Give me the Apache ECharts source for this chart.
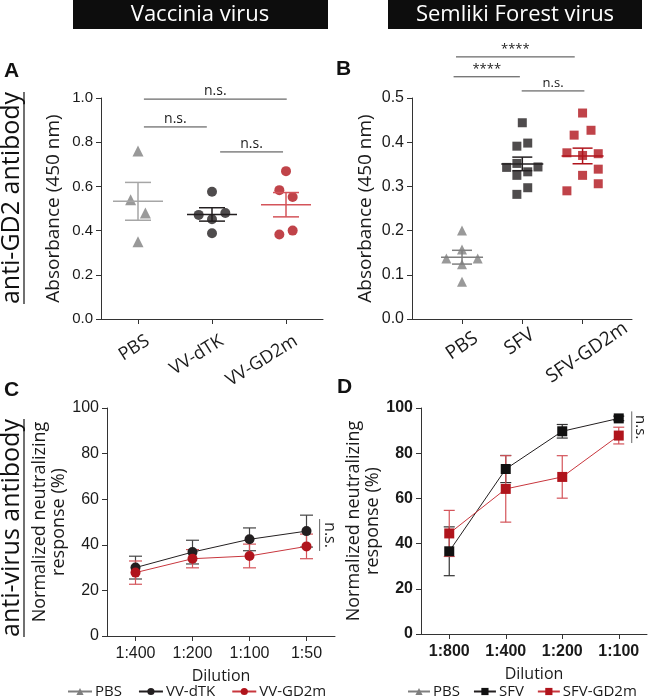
<!DOCTYPE html>
<html><head><meta charset="utf-8">
<script src="https://cdn.jsdelivr.net/npm/echarts@6/dist/echarts.min.js"></script>
<style>html,body{margin:0;padding:0;background:#fff}#c{width:650px;height:700px}</style>
</head><body><div id="c"></div>
<script>
// ---------- Panel A data (Vaccinia, anti-GD2 absorbance) ----------
const catsA = ['PBS', 'VV-dTK', 'VV-GD2m'];
const pbsA = [0.76, 0.54, 0.48, 0.35];
const vvdtkA = [0.576, 0.471, 0.48, 0.451, 0.388];
const vvgd2mA = [0.669, 0.583, 0.552, 0.382, 0.40];
const jitPbsA = [0, -0.1, 0.1, 0];
const jitVvdtkA = [0, -0.18, 0.18, 0, 0];
const jitVvgd2mA = [0, -0.09, 0.09, -0.09, 0.09];
const sigA = [
  { x1: 0.08, x2: 2.01, y: 0.995, t: 'n.s.' },
  { x1: 0.08, x2: 0.93, y: 0.869, t: 'n.s.' },
  { x1: 1.11, x2: 1.96, y: 0.756, t: 'n.s.' }
];
// ---------- Panel B data (SFV, anti-GD2 absorbance) ----------
const catsB = ['PBS', 'SFV', 'SFV-GD2m'];
const pbsB = [0.20, 0.157, 0.137, 0.137, 0.124, 0.084];
const sfvB = [0.444, 0.398, 0.391, 0.343, 0.352, 0.344, 0.333, 0.325, 0.297, 0.282];
const sfvgd2mB = [0.466, 0.416, 0.427, 0.376, 0.370, 0.374, 0.339, 0.325, 0.306, 0.290];
const jitPbsB = [0, 0, -0.26, 0.26, 0, 0];
const jitSfvB = [0, 0.09, -0.09, -0.26, -0.09, 0.26, 0.09, -0.09, 0.09, -0.09];
const jitSfvgd2mB = [0, -0.14, 0.14, -0.26, 0, 0.26, 0.26, 0, 0.26, -0.26];
const sigB = [
  { x1: -0.1, x2: 1.87, y: 0.593, t: '****' },
  { x1: -0.14, x2: 0.96, y: 0.548, t: '****' },
  { x1: 0.99, x2: 2.03, y: 0.516, t: 'n.s.' }
];
// ---------- Panel C data (Vaccinia, neutralizing) ----------
const dilC = ['1:400', '1:200', '1:100', '1:50'];
const vvdtkC = [30, 36.8, 42.4, 46];
const vvdtkCerr = [5, 5.2, 5, 7];
const vvgd2mC = [27.8, 33.9, 35.1, 39.3];
const vvgd2mCerr = [5.1, 4, 5.2, 5.4];
const nsC = { y1: 51.3, y2: 37.3 };
// ---------- Panel D data (SFV, neutralizing) ----------
const dilD = ['1:800', '1:400', '1:200', '1:100'];
const sfvD = [36.6, 73, 89.7, 95.4];
const sfvDerr = [10.8, 6, 3, 1];
const sfvgd2mD = [44.5, 64.2, 69.5, 87.8];
const sfvgd2mDerr = [10.2, 14.7, 9.4, 3.7];
const nsD = { y1: 98.5, y2: 84.5 };

const F = '"Open Sans", "Noto Sans", sans-serif';
const N = '"Liberation Sans", Arial, sans-serif';
const GRAY = '#7f7f7f', BLACK = '#231f20', RED = '#b0141c';
const LGRAY = '#a6a6a6', LRED = '#d4545a';
const AX = '#333', TX = '#1a1a1a';

function mean(a) { return a.reduce((s, v) => s + v, 0) / a.length; }
function sem(a) { const m = mean(a); const v = a.reduce((s, x) => s + (x - m) * (x - m), 0) / (a.length - 1); return Math.sqrt(v / a.length); }
function pts(vals, jit, idx) { return vals.map((v, i) => [idx + jit[i], v]); }

function meanSem(xi, yi, groups, colors, meanW, capW) {
  return {
    type: 'custom', xAxisIndex: xi, yAxisIndex: yi, z: 4, silent: true, clip: false,
    data: groups.map((g, i) => [i, mean(g), sem(g)]),
    renderItem: (p, api) => {
      const x = api.value(0), m = api.value(1), s = api.value(2);
      const c = api.coord([x, m]), hi = api.coord([x, m + s]), lo = api.coord([x, m - s]);
      const st = { stroke: colors[p.dataIndex], lineWidth: 1.5 };
      return { type: 'group', children: [
        { type: 'line', shape: { x1: c[0] - meanW / 2, y1: c[1], x2: c[0] + meanW / 2, y2: c[1] }, style: st },
        { type: 'line', shape: { x1: hi[0], y1: hi[1], x2: lo[0], y2: lo[1] }, style: st },
        { type: 'line', shape: { x1: hi[0] - capW / 2, y1: hi[1], x2: hi[0] + capW / 2, y2: hi[1] }, style: st },
        { type: 'line', shape: { x1: lo[0] - capW / 2, y1: lo[1], x2: lo[0] + capW / 2, y2: lo[1] }, style: st }
      ]};
    }
  };
}
function brackets(xi, yi, list, fs) {
  return {
    type: 'custom', xAxisIndex: xi, yAxisIndex: yi, z: 5, silent: true, clip: false,
    data: list.map(b => [b.x1, b.y, b.x2]),
    renderItem: (p, api) => {
      const b = list[p.dataIndex];
      const p1 = api.coord([b.x1, b.y]), p2 = api.coord([b.x2, b.y]);
      return { type: 'group', children: [
        { type: 'line', shape: { x1: p1[0], y1: p1[1], x2: p2[0], y2: p2[1] }, style: { stroke: '#444', lineWidth: 1 } },
        { type: 'text', style: { text: b.t, x: (p1[0] + p2[0]) / 2, y: p1[1] - 1, align: 'center', verticalAlign: 'bottom', font: fs + 'px ' + F, fill: TX } }
      ]};
    }
  };
}
function errBars(xi, yi, vals, errs, color, capW) {
  return {
    type: 'custom', xAxisIndex: xi, yAxisIndex: yi, z: 1, silent: true,
    data: vals.map((v, i) => [i, v, errs[i]]),
    renderItem: (p, api) => {
      const i = api.value(0), v = api.value(1), e = api.value(2);
      const hi = api.coord([i, v + e]), lo = api.coord([i, v - e]);
      const st = { stroke: color, lineWidth: 1.2 };
      return { type: 'group', children: [
        { type: 'line', shape: { x1: hi[0], y1: hi[1], x2: lo[0], y2: lo[1] }, style: st },
        { type: 'line', shape: { x1: hi[0] - capW / 2, y1: hi[1], x2: hi[0] + capW / 2, y2: hi[1] }, style: st },
        { type: 'line', shape: { x1: lo[0] - capW / 2, y1: lo[1], x2: lo[0] + capW / 2, y2: lo[1] }, style: st }
      ]};
    }
  };
}
function vertNs(xi, yi, lastIdx, ns, fs) {
  return {
    type: 'custom', xAxisIndex: xi, yAxisIndex: yi, z: 5, silent: true, clip: false,
    data: [[lastIdx, ns.y1, ns.y2]],
    renderItem: (p, api) => {
      const band = api.size([1, 0])[0];
      const a = api.coord([lastIdx, ns.y1]), b = api.coord([lastIdx, ns.y2]);
      const x = a[0] + 0.23 * band;
      return { type: 'group', children: [
        { type: 'line', shape: { x1: x, y1: a[1], x2: x, y2: b[1] }, style: { stroke: '#666', lineWidth: 1 } },
        { type: 'text', x: x + fs * 0.6, y: (a[1] + b[1]) / 2, rotation: -Math.PI / 2,
          style: { text: 'n.s.', x: 0, y: 0, align: 'center', verticalAlign: 'middle', font: fs + 'px ' + F, fill: TX } }
      ]};
    }
  };
}

const tick = { show: true, length: 5, lineStyle: { color: AX } };
const axBase = (extra) => Object.assign({
  axisLine: { show: true, onZero: false, lineStyle: { color: AX, width: 1 } },
  axisTick: tick,
  splitLine: { show: false }
}, extra);

const meas = document.createElement('canvas').getContext('2d');
function tw(text, font) { meas.font = font; return meas.measureText(text).width; }
const bigFont = '25px ' + F;
const wA = tw('anti-GD2 antibody', bigFont), wC = tw('anti-virus antibody', bigFont);

const labB = { fontSize: 19, color: TX, fontFamily: F };
const chart = echarts.init(document.getElementById('c'));
chart.setOption({
  animation: false,
  textStyle: { fontFamily: F },
  grid: [
    { left: 101, top: 98, width: 222, height: 221 },
    { left: 412, top: 98, width: 220, height: 221 },
    { left: 107, top: 408, width: 228, height: 228 },
    { left: 421, top: 408, width: 226, height: 226 }
  ],
  xAxis: [
    axBase({ gridIndex: 0, type: 'value', min: -0.5, max: 2.5,
      axisTick: Object.assign({ customValues: [0, 1, 2] }, tick),
      axisLabel: { customValues: [0, 1, 2], formatter: v => catsA[Math.round(v)], rotate: 32, margin: 16,
        verticalAlign: 'top', padding: [0, -6, 0, 0], fontSize: 18, color: TX, fontFamily: F } }),
    axBase({ gridIndex: 1, type: 'value', min: -0.83, max: 2.82,
      axisTick: Object.assign({ customValues: [0, 1, 2] }, tick),
      axisLabel: { customValues: [0, 1, 2], formatter: v => '{l' + Math.round(v) + '|' + catsB[Math.round(v)] + '}',
        rotate: 34, margin: 27, align: 'center', verticalAlign: 'middle', fontSize: 19, color: TX, fontFamily: F,
        rich: {
          l0: Object.assign({}, labB),
          l1: Object.assign({ padding: [0, 0, 10, 0] }, labB),
          l2: Object.assign({ padding: [16, 0, 0, 0] }, labB)
        } } }),
    axBase({ gridIndex: 2, type: 'category', data: dilC, boundaryGap: true,
      axisTick: Object.assign({ alignWithLabel: true }, tick),
      axisLabel: { margin: 10, fontSize: 16, color: TX, fontFamily: N },
      name: 'Dilution', nameLocation: 'middle', nameGap: 32, nameTextStyle: { fontSize: 16, color: TX, fontFamily: F } }),
    axBase({ gridIndex: 3, type: 'category', data: dilD, boundaryGap: true,
      axisTick: Object.assign({ alignWithLabel: true }, tick),
      axisLabel: { margin: 10, fontSize: 16, fontWeight: 'bold', color: TX, fontFamily: N },
      name: 'Dilution', nameLocation: 'middle', nameGap: 32, nameTextStyle: { fontSize: 16, color: TX, fontFamily: F } })
  ],
  yAxis: [
    axBase({ gridIndex: 0, type: 'value', min: 0, max: 1, interval: 0.2,
      axisLabel: { formatter: v => v.toFixed(1), margin: 8, fontSize: 15, color: TX, fontFamily: N },
      name: 'Absorbance (450 nm)', nameLocation: 'middle', nameGap: 38, nameTextStyle: { fontSize: 19, color: TX, fontFamily: F } }),
    axBase({ gridIndex: 1, type: 'value', min: 0, max: 0.5, interval: 0.1,
      axisLabel: { formatter: v => v.toFixed(1), margin: 8, fontSize: 16, color: TX, fontFamily: N },
      name: 'Absorbance (450 nm)', nameLocation: 'middle', nameGap: 37, nameTextStyle: { fontSize: 19, color: TX, fontFamily: F } }),
    axBase({ gridIndex: 2, type: 'value', min: 0, max: 100, interval: 20,
      axisLabel: { margin: 8, fontSize: 16, color: TX, fontFamily: N },
      name: 'Normalized neutralizing\nresponse (%)', nameLocation: 'middle', nameGap: 35,
      nameTextStyle: { fontSize: 18, lineHeight: 19, color: TX, fontFamily: F } }),
    axBase({ gridIndex: 3, type: 'value', min: 0, max: 100, interval: 20,
      axisLabel: { margin: 8, fontSize: 16, fontWeight: 'bold', color: TX, fontFamily: N },
      name: 'Normalized neutralizing\nresponse (%)', nameLocation: 'middle', nameGap: 34,
      nameTextStyle: { fontSize: 18, lineHeight: 19, color: TX, fontFamily: F } })
  ],
  legend: [
    { left: 67, top: 684, width: 290, padding: 0, itemWidth: 24, itemHeight: 9, itemGap: 16, data: ['PBS', 'VV-dTK', 'VV-GD2m'],
      textStyle: { fontSize: 15, color: TX, fontFamily: F, padding: [0, 0, 0, -2] }, selectedMode: false },
    { left: 407, top: 684, width: 243, padding: 0, itemWidth: 22, itemHeight: 9, itemGap: 13, data: ['PBS', 'SFV', 'SFV-GD2m'],
      textStyle: { fontSize: 15, color: TX, fontFamily: F, padding: [0, 0, 0, -2] }, selectedMode: false }
  ],
  series: [
    // Panel A
    { type: 'scatter', xAxisIndex: 0, yAxisIndex: 0, symbol: 'triangle', symbolSize: 11, itemStyle: { color: GRAY }, data: pts(pbsA, jitPbsA, 0), z: 3 },
    { type: 'scatter', xAxisIndex: 0, yAxisIndex: 0, symbol: 'circle', symbolSize: 10, itemStyle: { color: BLACK }, data: pts(vvdtkA, jitVvdtkA, 1), z: 3 },
    { type: 'scatter', xAxisIndex: 0, yAxisIndex: 0, symbol: 'circle', symbolSize: 10, itemStyle: { color: RED }, data: pts(vvgd2mA, jitVvgd2mA, 2), z: 3 },
    meanSem(0, 0, [pbsA, vvdtkA, vvgd2mA], [LGRAY, BLACK, LRED], 50, 26),
    brackets(0, 0, sigA, 14),
    // Panel B
    { type: 'scatter', xAxisIndex: 1, yAxisIndex: 1, symbol: 'triangle', symbolSize: 10, itemStyle: { color: GRAY }, data: pts(pbsB, jitPbsB, 0), z: 3 },
    { type: 'scatter', xAxisIndex: 1, yAxisIndex: 1, symbol: 'rect', symbolSize: 9, itemStyle: { color: BLACK }, data: pts(sfvB, jitSfvB, 1), z: 3 },
    { type: 'scatter', xAxisIndex: 1, yAxisIndex: 1, symbol: 'rect', symbolSize: 9, itemStyle: { color: RED }, data: pts(sfvgd2mB, jitSfvgd2mB, 2), z: 3 },
    meanSem(1, 1, [pbsB, sfvB, sfvgd2mB], [GRAY, BLACK, RED], 42, 20),
    brackets(1, 1, sigB, 13),
    // Panel C
    { type: 'line', name: 'PBS', xAxisIndex: 2, yAxisIndex: 2, symbol: 'triangle', symbolSize: 9, itemStyle: { color: GRAY }, lineStyle: { color: GRAY, width: 1 }, data: [] },
    { type: 'line', name: 'VV-dTK', xAxisIndex: 2, yAxisIndex: 2, symbol: 'circle', symbolSize: 10, showAllSymbol: true, itemStyle: { color: BLACK }, lineStyle: { color: BLACK, width: 1 }, data: vvdtkC, z: 3 },
    { type: 'line', name: 'VV-GD2m', xAxisIndex: 2, yAxisIndex: 2, symbol: 'circle', symbolSize: 10, showAllSymbol: true, itemStyle: { color: RED }, lineStyle: { color: '#c8363d', width: 1 }, data: vvgd2mC, z: 3 },
    errBars(2, 2, vvdtkC, vvdtkCerr, '#444', 13),
    errBars(2, 2, vvgd2mC, vvgd2mCerr, LRED, 13),
    vertNs(2, 2, 3, nsC, 16),
    // Panel D
    { type: 'line', name: 'PBS', xAxisIndex: 3, yAxisIndex: 3, symbol: 'triangle', symbolSize: 9, itemStyle: { color: GRAY }, lineStyle: { color: GRAY, width: 1 }, data: [] },
    { type: 'line', name: 'SFV', xAxisIndex: 3, yAxisIndex: 3, symbol: 'rect', symbolSize: 10, showAllSymbol: true, itemStyle: { color: '#111' }, lineStyle: { color: BLACK, width: 1 }, data: sfvD, z: 3 },
    { type: 'line', name: 'SFV-GD2m', xAxisIndex: 3, yAxisIndex: 3, symbol: 'rect', symbolSize: 10, showAllSymbol: true, itemStyle: { color: RED }, lineStyle: { color: '#c8363d', width: 1 }, data: sfvgd2mD, z: 3 },
    errBars(3, 3, sfvD, sfvDerr, '#333', 11),
    errBars(3, 3, sfvgd2mD, sfvgd2mDerr, LRED, 11),
    vertNs(3, 3, 3, nsD, 15)
  ],
  graphic: [
    { type: 'rect', shape: { x: 73, y: 0, width: 255, height: 29 }, style: { fill: '#0d0d0d' } },
    { type: 'text', style: { text: 'Vaccinia virus', x: 200, y: 15, align: 'center', verticalAlign: 'middle', font: '22px ' + F, fill: '#fff' } },
    { type: 'rect', shape: { x: 388, y: 0, width: 254, height: 29 }, style: { fill: '#0d0d0d' } },
    { type: 'text', style: { text: 'Semliki Forest virus', x: 515, y: 15, align: 'center', verticalAlign: 'middle', font: '22px ' + F, fill: '#fff' } },
    { type: 'text', style: { text: 'A', x: 4, y: 71, verticalAlign: 'middle', font: 'bold 21px ' + N, fill: '#111' } },
    { type: 'text', style: { text: 'B', x: 336, y: 69, verticalAlign: 'middle', font: 'bold 21px ' + N, fill: '#111' } },
    { type: 'text', style: { text: 'C', x: 4, y: 390, verticalAlign: 'middle', font: 'bold 21px ' + N, fill: '#111' } },
    { type: 'text', style: { text: 'D', x: 337, y: 387, verticalAlign: 'middle', font: 'bold 21px ' + N, fill: '#111' } },
    { type: 'text', x: 12, y: 198, rotation: Math.PI / 2,
      style: { text: 'anti-GD2 antibody', x: 0, y: 0, align: 'center', verticalAlign: 'middle', font: bigFont, fill: '#111' } },
    { type: 'line', shape: { x1: 24, y1: 198 - wA / 2, x2: 24, y2: 198 + wA / 2 }, style: { stroke: '#111', lineWidth: 1.2 } },
    { type: 'text', x: 12, y: 528, rotation: Math.PI / 2,
      style: { text: 'anti-virus antibody', x: 0, y: 0, align: 'center', verticalAlign: 'middle', font: bigFont, fill: '#111' } },
    { type: 'line', shape: { x1: 24, y1: 528 - wC / 2, x2: 24, y2: 528 + wC / 2 }, style: { stroke: '#111', lineWidth: 1.2 } }
  ]
});
</script>
</body></html>
